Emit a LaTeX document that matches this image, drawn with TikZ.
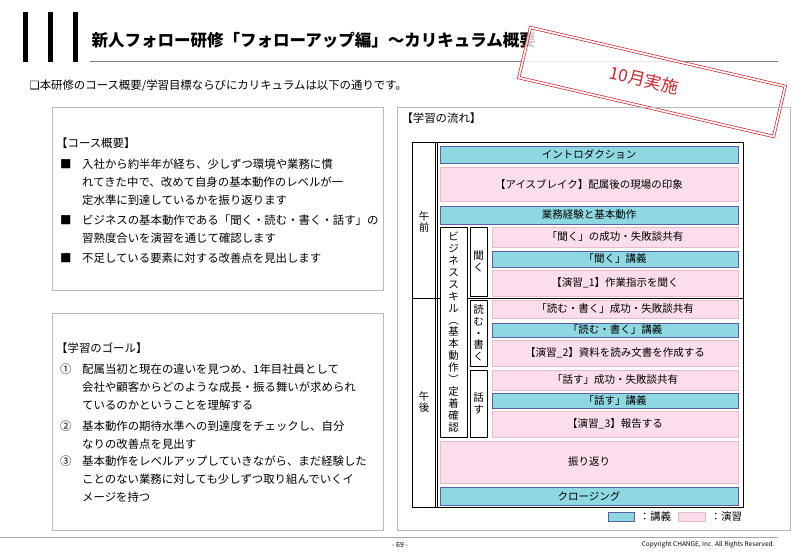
\documentclass[tikz,border=0pt]{standalone}
\usepackage{fontspec}
\setmainfont{Noto Sans CJK JP}
\newfontfamily\symfont{DejaVu Sans}
\usetikzlibrary{calc}
\definecolor{lec}{HTML}{8ED9E1}
\definecolor{lecb}{HTML}{5B5EA6}
\definecolor{exe}{HTML}{FBDDEB}
\definecolor{exeb}{HTML}{E8B8CC}
\definecolor{stamp}{HTML}{C8282D}
\tikzset{
 lecbox/.style={draw=lecb,fill=lec,line width=0.9pt,inner sep=0pt},
 exebox/.style={draw=exeb,fill=exe,line width=0.6pt,inner sep=0pt},
 sidebox/.style={draw=black,line width=0.7pt,fill=white},
 panel/.style={draw=gray!55,line width=0.8pt},
 body/.style={anchor=north west,align=left,inner sep=0pt,font=\fontsize{11.4}{18}\selectfont},
 vtext/.style={align=center,inner sep=0pt,font=\fontsize{10.5}{11.9}\selectfont},
}
\newcommand{\rowbox}[5]{\path[#1] (#2,#3) rectangle (738,#4); \node[font=\fontsize{10.5}{12}\selectfont] at ({(#2+738)/2},{(#3+#4)/2}) {#5};}
\begin{document}
\begin{tikzpicture}[x=1pt,y=-1pt]
\useasboundingbox[fill=white] (0,0) rectangle (800,553);
% header
\foreach \xx in {25,50,75}{\fill[black] (\xx-2.5,12) rectangle (\xx+2.5,62);}
\node[anchor=west,font=\fontsize{16.5}{18}\bfseries\selectfont] (title) at (88,40) {新人フォロー研修「フォローアップ編」～カリキュラム概要};
\draw[gray,line width=1pt] (90,62) -- (778,62);
\node[anchor=west,font=\fontsize{11.4}{14}\selectfont] (sub) at (26,86) {{\symfont ❑}本研修のコース概要/学習目標ならびにカリキュラムは以下の通りです。};
% stamp
\begin{scope}[shift={(652,82)},rotate=-13]
\fill[white,opacity=0.8] (-132,-27) rectangle (132,27);
\draw[stamp,line width=0.6pt] (-132,-27) rectangle (132,27);
\draw[stamp,line width=0.6pt] (-129.5,-24.5) rectangle (129.5,24.5);
\node[stamp,transform shape,font=\fontsize{17}{18}\selectfont] (stamptxt) at (-8,0) {10月実施};
\end{scope}
% panels
\draw[panel] (52,107) rectangle (383,290);
\draw[panel] (52,313) rectangle (383,530);
\draw[panel] (397,107) rectangle (790,530);
% left texts
\node[body] (ov) at (56,138) {【コース概要】};
\node[body] (b1m) at (60,159) {■};
\node[body] (b1) at (82,159) {入社から約半年が経ち、少しずつ環境や業務に慣\\れてきた中で、改めて自身の基本動作のレベルが一\\定水準に到達しているかを振り返ります};
\node[body] (b2m) at (60,215) {■};
\node[body] (b2) at (82,215) {ビジネスの基本動作である「聞く・読む・書く・話す」の\\習熟度合いを演習を通じて確認します};
\node[body] (b3m) at (60,253) {■};
\node[body] (b3) at (82,253) {不足している要素に対する改善点を見出します};
\node[body] (gl) at (56,343) {【学習のゴール】};
\node[body] (g1m) at (60,364) {①};
\node[body] (g1) at (82,364) {配属当初と現在の違いを見つめ、1年目社員として\\会社や顧客からどのような成長・振る舞いが求められ\\ているのかということを理解する};
\node[body] (g2m) at (60,421) {②};
\node[body] (g2) at (82,421) {基本動作の期待水準への到達度をチェックし、自分\\なりの改善点を見出す};
\node[body] (g3m) at (60,456) {③};
\node[body] (g3) at (82,456) {基本動作をレベルアップしていきながら、まだ経験した\\ことのない業務に対しても少しずつ取り組んでいくイ\\メージを持つ};
% right panel
\node[anchor=west,font=\fontsize{11.4}{14}\selectfont] (flow) at (398,118) {【学習の流れ】};
\draw[black,line width=0.9pt] (412,142) rectangle (743,507);
\draw[black,line width=0.7pt] (435,142) -- (435,507);
\draw[black,line width=0.7pt] (437.5,142) -- (437.5,507);
\draw[black,line width=0.7pt] (412,298) -- (743,298);
\node[vtext] (am) at (424,222) {午\\前};
\node[vtext] (pm) at (424,402) {午\\後};
\rowbox{lecbox}{440}{146}{163}{イントロダクション}
\rowbox{exebox}{440}{167}{201}{【アイスブレイク】配属後の現場の印象}
\rowbox{lecbox}{440}{206}{224}{業務経験と基本動作}
\path[sidebox] (440,227) rectangle (467,437);
\node[vtext] (biz) at (453.5,332) {ビ\\ジ\\ネ\\ス\\ス\\キ\\ル\\︵\\基\\本\\動\\作\\︶\\定\\着\\確\\認};
\path[sidebox] (470,227) rectangle (487,296);
\node[vtext] (kiku) at (478.5,261.5) {聞\\く};
\path[sidebox] (470,300) rectangle (487,366);
\node[vtext] (yomu) at (478.5,333) {読\\む\\・\\書\\く};
\path[sidebox] (470,370) rectangle (487,437);
\node[vtext] (hanasu) at (478.5,403.5) {話\\す};
\rowbox{exebox}{492}{227}{247}{「聞く」の成功・失敗談共有}
\rowbox{lecbox}{492}{251}{267}{「聞く」講義}
\rowbox{exebox}{492}{270}{296}{【演習\_1】作業指示を聞く}
\rowbox{exebox}{492}{300}{318}{「読む・書く」成功・失敗談共有}
\rowbox{lecbox}{492}{323}{337}{「読む・書く」講義}
\rowbox{exebox}{492}{340}{366}{【演習\_2】資料を読み文書を作成する}
\rowbox{exebox}{492}{370}{390}{「話す」成功・失敗談共有}
\rowbox{lecbox}{492}{393}{408}{「話す」講義}
\rowbox{exebox}{492}{411}{437}{【演習\_3】報告する}
\rowbox{exebox}{440}{441}{483}{振り返り}
\rowbox{lecbox}{440}{487}{505}{クロージング}
% legend
\path[lecbox] (608,512) rectangle (634,521);
\node[anchor=west,font=\fontsize{10.5}{12}\selectfont] (l1) at (636,516.5) {：講義};
\path[exebox] (678,512) rectangle (705,521);
\node[anchor=west,font=\fontsize{10.5}{12}\selectfont] (l2) at (707,516.5) {：演習};
% footer
\draw[gray!70,line width=0.8pt] (0,537) -- (778,537);
\node[font=\fontsize{7}{8}\selectfont] (pg) at (400,545) {- 69 -};
\node[anchor=east,font=\fontsize{6.5}{8}\selectfont] (copy) at (778,545) {Copyright CHANGE, Inc. All Rights Reserved.};
\end{tikzpicture}
\end{document}
